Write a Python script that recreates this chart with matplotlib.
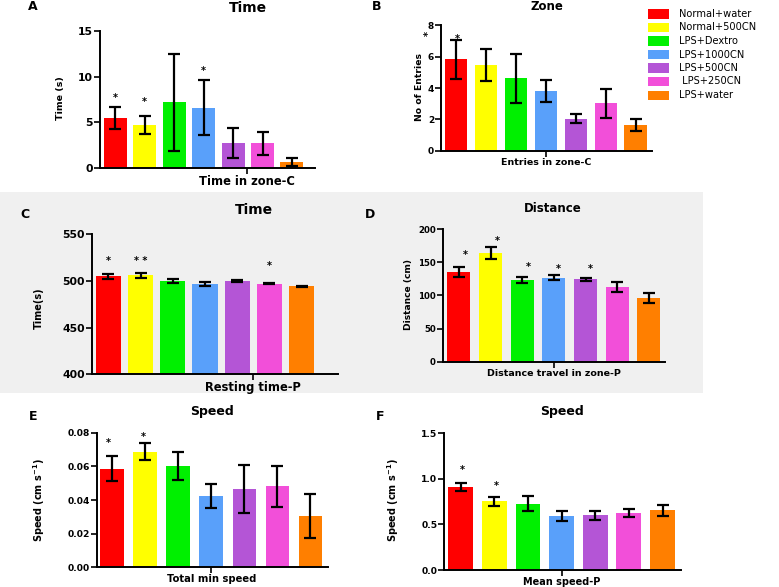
import matplotlib
matplotlib.use("Agg")
import matplotlib.pyplot as plt
from matplotlib.patches import Rectangle

plt.rcParams['font.family'] = ['DejaVu Sans']
plt.rcParams['font.weight'] = 'bold'

W, H = 779, 587

groups = ["Normal+water", "Normal+500CN", "LPS+Dextro", "LPS+1000CN",
          "LPS+500CN", " LPS+250CN", "LPS+water"]
colors = ["#ff0000", "#ffff00", "#00f000", "#59a0fa", "#b455d6", "#f24fd9", "#ff7f00"]

# Panel A: Time in zone-C
a_mean = [5.5, 4.7, 7.2, 6.6, 2.7, 2.7, 0.65]
a_err = [1.2, 1.0, 5.3, 3.0, 1.65, 1.25, 0.45]
# Panel B: Entries in zone-C
b_mean = [5.83, 5.47, 4.62, 3.83, 2.05, 3.02, 1.63]
b_err = [1.25, 1.0, 1.55, 0.7, 0.28, 0.92, 0.4]
# Panel C: Resting time-P
c_mean = [505.0, 506.2, 500.0, 497.0, 500.0, 497.2, 494.2]
c_err = [2.5, 2.8, 2.6, 2.0, 1.5, 0.5, 0.8]
# Panel D: Distance travel in zone-P
d_mean = [135.5, 164.0, 123.5, 127.0, 124.5, 113.5, 96.5]
d_err = [7.0, 9.0, 4.5, 4.0, 2.0, 7.5, 7.5]
# Panel E: Total min speed
e_mean = [0.0587, 0.0688, 0.0602, 0.0426, 0.0464, 0.0482, 0.0305]
e_err = [0.0077, 0.0050, 0.0085, 0.0072, 0.0143, 0.0123, 0.0130]
# Panel F: Mean speed-P
f_mean = [0.915, 0.755, 0.725, 0.59, 0.60, 0.625, 0.655]
f_err = [0.045, 0.048, 0.082, 0.055, 0.05, 0.04, 0.06]

fig = plt.figure(figsize=(W / 100, H / 100), dpi=100)
fig.patch.set_facecolor("white")

# grey band behind panels C and D
fig.patches.append(Rectangle((0, 1 - 393 / H), 703 / W, (393 - 192) / H,
                             transform=fig.transFigure, facecolor="#f0f0f0",
                             edgecolor="none", zorder=-5))


def rect(l, t, r, b):
    return [l / W, 1 - b / H, (r - l) / W, (b - t) / H]


def fx(x):
    return x / W


def fy(y):
    return 1 - y / H


def panel(r, means, errs, ylim, yticks, yfmt, xlim, width, tickpos, ticklabel,
          yfs, xfs):
    ax = fig.add_axes(rect(*r))
    ax.set_facecolor("none")
    xs = list(range(len(means)))
    ax.bar(xs, means, width=width, color=colors, zorder=2)
    ax.errorbar(xs, means, yerr=errs, fmt="none", ecolor="black",
                elinewidth=1.6, capsize=4.6, capthick=1.6, zorder=3)
    ax.set_ylim(*ylim)
    ax.set_xlim(*xlim)
    ax.set_yticks(yticks)
    ax.set_yticklabels([yfmt.format(v) for v in yticks], fontsize=yfs, fontweight="bold")
    ax.set_xticks([tickpos])
    ax.set_xticklabels([ticklabel], fontsize=xfs, fontweight="bold")
    for s in ["top", "right"]:
        ax.spines[s].set_visible(False)
    for s in ["left", "bottom"]:
        ax.spines[s].set_linewidth(1.4)
    ax.tick_params(axis="y", length=4, width=1.2, pad=1)
    ax.tick_params(axis="x", length=4, width=1.2, pad=1)
    return ax


axA = panel((100, 31, 315, 168), a_mean, a_err, (0, 15), [0, 5, 10, 15], "{:.0f}",
            (-0.51, 6.78), 0.78, 4.47, "Time in zone-C", 7.8, 8.3)
axB = panel((441, 25.3, 652, 150.7), b_mean, b_err, (0, 8), [0, 2, 4, 6, 8], "{:.0f}",
            (-0.5, 6.55), 0.74, 3.0, "Entries in zone-C", 6.5, 6.8)
axC = panel((92, 234.3, 338, 374.3), c_mean, c_err, (400, 550), [400, 450, 500, 550], "{:.0f}",
            (-0.51, 7.13), 0.78, 4.49, "Resting time-P", 7.8, 8.3)
axD = panel((442.7, 229.3, 665, 361.7), d_mean, d_err, (0, 200), [0, 50, 100, 150, 200], "{:.0f}",
            (-0.51, 6.51), 0.72, 3.0, "Distance travel in zone-P", 6.2, 6.8)
axE = panel((96.7, 432.7, 328, 567.3), e_mean, e_err, (0, 0.08), [0, 0.02, 0.04, 0.06, 0.08], "{:.2f}",
            (-0.46, 6.53), 0.71, 3.0, "Total min speed", 6.6, 7.2)
axF = panel((444.3, 433.3, 681, 570), f_mean, f_err, (0, 1.5), [0, 0.5, 1.0, 1.5], "{:.1f}",
            (-0.49, 6.55), 0.74, 3.0, "Mean speed-P", 6.6, 7)

# significance stars
star_kw = dict(ha="center", va="center", fontsize=7, fontweight="bold", zorder=4)
axA.text(0, 7.7, "*", **star_kw)
axA.text(1, 7.2, "*", **star_kw)
axA.text(3, 10.6, "*", **star_kw)
axB.text(0.05, 7.15, "*", **star_kw)
axC.text(0, 521, "*", **star_kw)
axC.text(1, 521, "* *", **star_kw)
axC.text(5, 516, "*", **star_kw)
axD.text(0.22, 161, "*", **star_kw)
axD.text(1.2, 183, "*", **star_kw)
axD.text(2.19, 143.5, "*", **star_kw)
axD.text(3.13, 140, "*", **star_kw)
axD.text(4.16, 140, "*", **star_kw)
axE.text(-0.1, 0.0737, "*", **star_kw)
axE.text(0.95, 0.0776, "*", **star_kw)
axF.text(0.05, 1.098, "*", **star_kw)
axF.text(1.05, 0.922, "*", **star_kw)
fig.text(fx(429), fy(33), "*", rotation=90, **star_kw)

# titles
def title(x, y, s, fs):
    fig.text(fx(x), fy(y), s, ha="center", va="center", fontsize=fs, fontweight="bold")


title(248, 8, "Time", 10)
title(547, 6, "Zone", 8.5)
title(254, 210, "Time", 10)
title(553, 208, "Distance", 8.5)
title(212, 412, "Speed", 9)
title(562, 412, "Speed", 9)

# panel letters
for x, y, s in [(33, 7, "A"), (377, 7, "B"), (25, 215, "C"), (370, 215, "D"),
                (33, 417, "E"), (380, 417, "F")]:
    fig.text(fx(x), fy(y), s, ha="center", va="center", fontsize=9, fontweight="bold")

# y labels
def ylab(x, y, s, fs):
    fig.text(fx(x), fy(y), s, ha="center", va="center", rotation=90,
             fontsize=fs, fontweight="bold")


ylab(60, 98, "Time (s)", 6.8)
ylab(420, 87, "No of Entries", 6.7)
ylab(39, 308, "Time(s)", 7)
ylab(408, 295, "Distance (cm)", 6.6)
ylab(39, 500, "Speed (cm s$^{\\mathbf{-1}}$)", 7)
ylab(393, 500, "Speed (cm s$^{\\mathbf{-1}}$)", 7)

# legend
for i, (g, c) in enumerate(zip(groups, colors)):
    yc = 14 + 13.5 * i
    fig.patches.append(Rectangle((fx(648), fy(yc + 4.5)), 21 / W, 9 / H,
                                 transform=fig.transFigure, facecolor=c, edgecolor="none"))
    fig.text(fx(679), fy(yc), g, ha="left", va="center", fontsize=7.1, fontweight="normal")

fig.savefig("out.png", dpi=100)
